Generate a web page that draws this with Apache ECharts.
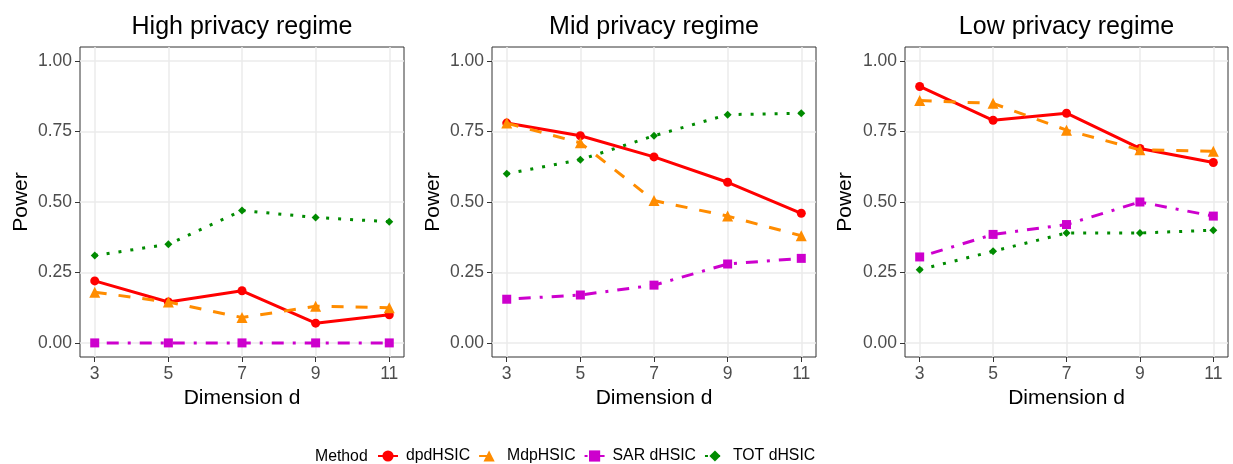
<!DOCTYPE html>
<html><head><meta charset="utf-8">
<script src="https://cdn.jsdelivr.net/npm/echarts@6/dist/echarts.min.js"></script>
<style>html,body{margin:0;padding:0;background:#fff}#c{width:1233px;height:464px}</style>
</head><body><div id="c"></div>
<script>
// ---- data ----
const dims = [3, 5, 7, 9, 11];
const xTicks = [3, 5, 7, 9, 11];
const yTicks = [0, 0.25, 0.5, 0.75, 1];
const panelTitles = ['High privacy regime', 'Mid privacy regime', 'Low privacy regime'];
const methods = ['dpdHSIC', 'MdpHSIC', 'SAR dHSIC', 'TOT dHSIC'];

const highDpd = [0.22, 0.145, 0.185, 0.07, 0.10];
const highMdp = [0.18, 0.145, 0.09, 0.13, 0.125];
const highSar = [0, 0, 0, 0, 0];
const highTot = [0.31, 0.35, 0.47, 0.445, 0.43];

const midDpd = [0.78, 0.735, 0.66, 0.57, 0.46];
const midMdp = [0.78, 0.71, 0.505, 0.45, 0.38];
const midSar = [0.155, 0.17, 0.205, 0.28, 0.30];
const midTot = [0.60, 0.65, 0.735, 0.81, 0.815];

const lowDpd = [0.91, 0.79, 0.815, 0.69, 0.64];
const lowMdp = [0.86, 0.85, 0.755, 0.685, 0.68];
const lowSar = [0.305, 0.385, 0.42, 0.50, 0.45];
const lowTot = [0.26, 0.325, 0.39, 0.39, 0.40];

const panelData = [
  [highDpd, highMdp, highSar, highTot],
  [midDpd, midMdp, midSar, midTot],
  [lowDpd, lowMdp, lowSar, lowTot]
];

// ---- styles ----
const FONT = 'Liberation Sans';
const colors = ['#FF0000', '#FF8C00', '#CD00CD', '#008B00'];
const symbols = ['circle', 'triangle', 'rect', 'diamond'];
const symSizes = [9, 11, 9, 8];
const LW = 3;
const dashes = ['solid', [12, 12], [3, 9, 12, 9], [3, 9]];
const gridLefts = [80, 492, 905];
const gridWidths = [324, 324, 323];
const gridTop = 47, gridHeight = 310;

const grids = [], xAxes = [], yAxes = [], series = [], titles = [];
for (let p = 0; p < 3; p++) {
  grids.push({left: gridLefts[p], top: gridTop, width: gridWidths[p], height: gridHeight,
    show: true, borderColor: '#333333', borderWidth: 1, backgroundColor: '#fff'});
  titles.push({text: panelTitles[p], left: gridLefts[p] + gridWidths[p] / 2, top: 15, textAlign: 'center', padding: 0,
    textStyle: {fontFamily: FONT, fontSize: 25, fontWeight: 'normal', color: '#000'}});
  xAxes.push({type: 'value', gridIndex: p, min: 2.6, max: 11.4, position: 'bottom',
    name: 'Dimension d', nameLocation: 'middle', nameGap: 31,
    nameTextStyle: {fontFamily: FONT, fontSize: 21, color: '#000'},
    axisLine: {show: false, onZero: false},
    axisTick: {show: true, length: 5, customValues: xTicks, lineStyle: {color: '#333333', width: 1}},
    axisLabel: {customValues: xTicks, fontFamily: FONT, fontSize: 17.5, color: '#4D4D4D', margin: 8},
    splitLine: {show: true, lineStyle: {color: '#EBEBEB', width: 1.5}}});
  yAxes.push({type: 'value', gridIndex: p, min: -0.05, max: 1.05, position: 'left',
    name: 'Power', nameLocation: 'middle', nameGap: 48 + (p === 2 ? 1 : 0),
    nameTextStyle: {fontFamily: FONT, fontSize: 21, color: '#000'},
    axisLine: {show: false, onZero: false},
    axisTick: {show: true, length: 5, customValues: yTicks, lineStyle: {color: '#333333', width: 1}},
    axisLabel: {customValues: yTicks, fontFamily: FONT, fontSize: 17.5, color: '#4D4D4D', margin: 8,
      formatter: v => v.toFixed(2)},
    splitLine: {show: true, lineStyle: {color: '#EBEBEB', width: 1.5}}});
  for (let m = 0; m < 4; m++) {
    series.push({type: 'line', name: methods[m], xAxisIndex: p, yAxisIndex: p,
      data: dims.map((d, i) => [d, panelData[p][m][i]]),
      symbol: symbols[m], symbolSize: symSizes[m], showSymbol: true,
      itemStyle: {color: colors[m]},
      lineStyle: {color: colors[m], width: LW, type: dashes[m], cap: 'butt'},
      animation: false, z: 2 + m});
  }
}

const chart = echarts.init(document.getElementById('c'), null, {renderer: 'canvas'});
chart.setOption({
  animation: false,
  backgroundColor: '#fff',
  title: titles,
  grid: grids,
  xAxis: xAxes,
  yAxis: yAxes,
  series: series,
  legend: {data: methods, left: 377, top: 448, padding: 0, itemWidth: 20, itemHeight: 14, itemGap: 8,
    textStyle: {fontFamily: FONT, fontSize: 15.8, color: '#000', padding: [0, 0, 0, 3]}},
  graphic: [{type: 'text', left: 315, top: 449,
    style: {text: 'Method', fontFamily: FONT, fontSize: 15.8, fill: '#000'}}]
});
</script></body></html>
